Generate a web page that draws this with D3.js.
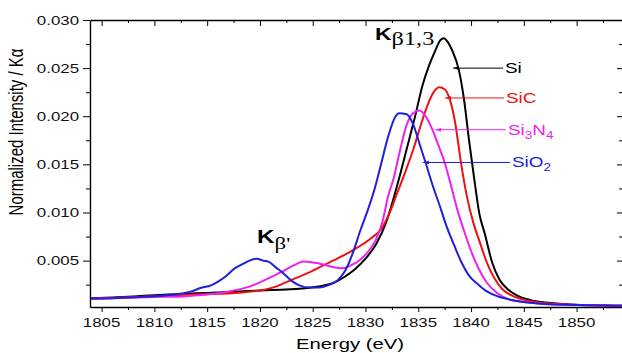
<!DOCTYPE html>
<html>
<head>
<meta charset="utf-8">
<title>Kbeta spectra</title>
<script src="https://cdnjs.cloudflare.com/ajax/libs/d3/7.8.5/d3.min.js"></script>
<style>
  body { margin: 0; background: #fff; }
  text { font-family: "Liberation Sans", Arial, sans-serif; }
</style>
</head>
<body>
<div id="chart"></div>
<script>
// series (energy in eV, intensity normalised to K alpha)
var siE = [1804, 1806, 1808, 1810, 1812, 1814, 1816, 1818, 1820, 1822, 1824, 1825.5, 1827, 1828, 1829, 1830, 1831, 1832, 1833, 1834, 1834.7, 1835.4, 1836, 1836.6, 1837.1, 1837.4, 1837.8, 1838.3, 1838.8, 1839.3, 1839.8, 1840.3, 1840.8, 1841.3, 1842, 1842.7, 1843.5, 1844.5, 1846, 1848, 1850, 1852, 1854.3];
var siV = [0.0011, 0.00118, 0.00128, 0.0014, 0.0015, 0.0016, 0.00168, 0.00178, 0.0019, 0.00198, 0.0021, 0.0023, 0.0027, 0.0033, 0.0041, 0.0052, 0.0067, 0.0091, 0.0128, 0.0170, 0.0200, 0.0232, 0.0252, 0.0268, 0.0279, 0.0281, 0.0277, 0.0266, 0.0250, 0.0220, 0.0176, 0.0135, 0.0098, 0.0078, 0.0048, 0.0030, 0.0020, 0.0013, 0.0008, 0.00055, 0.00042, 0.00035, 0.0003];

var sicE = [1804, 1806, 1808, 1810, 1812, 1814, 1816, 1818, 1820, 1821.5, 1823, 1824.5, 1826, 1827.5, 1829, 1830.5, 1831.5, 1832.3, 1833, 1833.8, 1834.6, 1835.3, 1835.9, 1836.4, 1837, 1837.5, 1838, 1838.5, 1839, 1839.6, 1840.2, 1840.8, 1841.5, 1842.2, 1843, 1844, 1845.5, 1847, 1849, 1851, 1854.3];
var sicV = [0.00105, 0.00112, 0.0012, 0.0013, 0.0014, 0.00148, 0.00155, 0.00165, 0.0019, 0.0023, 0.003, 0.0037, 0.0045, 0.0053, 0.0062, 0.0073, 0.0083, 0.0100, 0.0120, 0.0143, 0.0168, 0.0193, 0.0212, 0.0224, 0.0230, 0.0228, 0.0217, 0.0193, 0.0155, 0.0117, 0.0090, 0.0070, 0.0048, 0.0032, 0.0020, 0.0013, 0.0008, 0.0006, 0.00045, 0.00038, 0.0003];

var si3n4E = [1804, 1806, 1808, 1810, 1812, 1814, 1816, 1817.5, 1819, 1820.5, 1822, 1823.2, 1824.1, 1825, 1826, 1827, 1827.8, 1828.6, 1829.5, 1830.3, 1831, 1831.6, 1832.1, 1832.7, 1833.3, 1833.9, 1834.5, 1835.1, 1835.7, 1836.3, 1836.9, 1837.5, 1838.1, 1838.7, 1839.3, 1840, 1840.7, 1841.5, 1842.5, 1843.5, 1845, 1847, 1850, 1854.3];
var si3n4V = [0.00102, 0.0011, 0.00118, 0.00123, 0.00125, 0.0014, 0.0016, 0.0019, 0.0023, 0.003, 0.0038, 0.0045, 0.0049, 0.0048, 0.0046, 0.0043, 0.0042, 0.0045, 0.0051, 0.0060, 0.0072, 0.0090, 0.0115, 0.0137, 0.0166, 0.0191, 0.0203, 0.0206, 0.0200, 0.0187, 0.0170, 0.0152, 0.0128, 0.0103, 0.0082, 0.0060, 0.0042, 0.0027, 0.0016, 0.0010, 0.0007, 0.0005, 0.0004, 0.0003];

var sio2E = [1804, 1806, 1808, 1810, 1812, 1813.5, 1814.5, 1815.3, 1816, 1816.8, 1817.6, 1818.3, 1819, 1819.7, 1820.3, 1820.8, 1821.5, 1822.2, 1823, 1823.8, 1824.7, 1825.6, 1826.6, 1827.4, 1828.1, 1828.8, 1829.5, 1830.2, 1830.8, 1831.4, 1832.1, 1832.8, 1833.2, 1833.9, 1834.5, 1835.1, 1835.8, 1836.4, 1837, 1837.7, 1838.4, 1839.1, 1839.9, 1840.7, 1841.5, 1842.5, 1843.5, 1845, 1847, 1850, 1854.3];
var sio2V = [0.00105, 0.0011, 0.0012, 0.0013, 0.0015, 0.0018, 0.0022, 0.0024, 0.0028, 0.0034, 0.0042, 0.0046, 0.0050, 0.0052, 0.0050, 0.0049, 0.0043, 0.0037, 0.0029, 0.0024, 0.0022, 0.0022, 0.0025, 0.0030, 0.0040, 0.0058, 0.0081, 0.0102, 0.0122, 0.0147, 0.0177, 0.0199, 0.0203, 0.0202, 0.0192, 0.0172, 0.0148, 0.0127, 0.0108, 0.0085, 0.0066, 0.0048, 0.0033, 0.0025, 0.0018, 0.0013, 0.0010, 0.0007, 0.0005, 0.0004, 0.0003];

var seriesNames = ["Si", "SiC", "Si3N4", "SiO2"];
var seriesColors = ["#000000", "#ee1111", "#ee22ee", "#1f1fdd"];
var xTicks = [1805, 1810, 1815, 1820, 1825, 1830, 1835, 1840, 1845, 1850];
var yTicks = [0.005, 0.010, 0.015, 0.020, 0.025, 0.030];

var width = 622, height = 353;
var plotL = 90, plotR = 622, plotT = 20, plotB = 307;
var sx = 1.35; // the picture is stretched sideways, so is the text

var x = d3.scaleLinear().domain([1803.9, 1854.3]).range([plotL, plotR]);
var y = d3.scaleLinear().domain([0.00018, 0.030]).range([plotB, plotT]);

var svg = d3.select("#chart").append("svg")
    .attr("width", width)
    .attr("height", height);

var defs = svg.append("defs");
defs.append("clipPath").attr("id", "clip")
  .append("rect").attr("x", plotL).attr("y", plotT)
  .attr("width", plotR - plotL).attr("height", plotB - plotT);

function stext(g, tx, ty, str, size) {
  return g.append("text")
    .attr("transform", "translate(" + tx + "," + ty + ") scale(" + sx + ",1)")
    .attr("font-size", size)
    .text(str);
}

// axes
var minorX = d3.range(1807.5, 1854, 5);
var minorY = d3.range(0.0025, 0.03, 0.005);

var bottomAxis = svg.append("g")
    .attr("transform", "translate(0," + plotB + ")")
    .call(d3.axisBottom(x).tickValues(xTicks).tickSize(5).tickSizeOuter(0).tickFormat(""));
bottomAxis.select(".domain").attr("stroke-width", 1.4);
svg.append("g")
    .attr("transform", "translate(0," + plotB + ")")
    .call(d3.axisBottom(x).tickValues(minorX).tickSize(3).tickFormat(""))
    .select(".domain").remove();

var topAxis = svg.append("g")
    .attr("transform", "translate(0," + plotT + ")")
    .call(d3.axisBottom(x).tickValues(xTicks).tickSize(6).tickSizeOuter(0).tickFormat(""));
topAxis.select(".domain").attr("stroke-width", 1.4);
svg.append("g")
    .attr("transform", "translate(0," + plotT + ")")
    .call(d3.axisBottom(x).tickValues(minorX).tickSize(3).tickFormat(""))
    .select(".domain").remove();

var leftAxis = svg.append("g")
    .attr("transform", "translate(" + plotL + ",0)")
    .call(d3.axisLeft(y).tickValues(yTicks).tickSize(7).tickSizeOuter(0).tickFormat(""));
leftAxis.select(".domain").attr("stroke-width", 1.4);
svg.append("g")
    .attr("transform", "translate(" + plotL + ",0)")
    .call(d3.axisLeft(y).tickValues(minorY).tickSize(4).tickFormat(""))
    .select(".domain").remove();

svg.append("g")
    .attr("transform", "translate(" + plotR + ",0)")
    .call(d3.axisLeft(y).tickValues(yTicks).tickSize(5).tickSizeOuter(0).tickFormat(""));
svg.append("g")
    .attr("transform", "translate(" + plotR + ",0)")
    .call(d3.axisLeft(y).tickValues(minorY).tickSize(3).tickFormat(""))
    .select(".domain").remove();

// tick labels
var labels = svg.append("g").attr("fill", "#111");
xTicks.forEach(function(t) {
  stext(labels, x(t), plotB + 20, t, 12.5).attr("text-anchor", "middle");
});
yTicks.forEach(function(t) {
  stext(labels, plotL - 11, y(t) + 4.5, d3.format(".3f")(t), 12.5).attr("text-anchor", "end");
});

stext(svg, (plotL + plotR) / 2 - 6, 349, "Energy (eV)", 15).attr("text-anchor", "middle");

svg.append("text")
    .attr("transform", "translate(23,132) scale(" + sx + ",1) rotate(-90)")
    .attr("text-anchor", "middle")
    .attr("font-size", 15)
    .text("Normalized Intensity / K\u03b1");

// curves
var series = [siE, sicE, si3n4E, sio2E].map(function(es, i) {
  var vs = [siV, sicV, si3n4V, sio2V][i];
  return es.map(function(e, j) { return {e: e, v: vs[j]}; });
});

var line = d3.line()
    .x(function(d) { return x(d.e); })
    .y(function(d) { return y(d.v); })
    .curve(d3.curveMonotoneX);

svg.append("g").attr("clip-path", "url(#clip)")
  .selectAll("path")
  .data(series)
  .enter().append("path")
    .attr("d", line)
    .attr("fill", "none")
    .attr("stroke", function(d, i) { return seriesColors[i]; })
    .attr("stroke-width", 2)
    .attr("stroke-linejoin", "round");

// peak labels
var k13 = stext(svg, 375, 40, "", 17);
k13.append("tspan").attr("font-weight", "bold").text("K");
k13.append("tspan").attr("font-family", "Liberation Serif, serif").attr("font-size", 18)
    .attr("dy", 5).text("\u03b21,3");

var kp = stext(svg, 257, 243, "", 18);
kp.append("tspan").attr("font-weight", "bold").text("K");
kp.append("tspan").attr("font-family", "Liberation Serif, serif").attr("font-size", 17)
    .attr("dy", 6).text("\u03b2'");

// arrow labels: tip energy, label row
var arrowTip = [1838.3, 1837.55, 1836.6, 1835.45];
var arrowVal = [0.0250, 0.0219, 0.0186, 0.0152];
var labelX = [505, 506, 508, 512];

seriesColors.forEach(function(c, i) {
  defs.append("marker")
      .attr("id", "arr" + i)
      .attr("viewBox", "0 0 10 6")
      .attr("refX", 0).attr("refY", 3)
      .attr("markerWidth", 6).attr("markerHeight", 4)
      .attr("markerUnits", "userSpaceOnUse")
      .attr("orient", "auto")
    .append("path").attr("d", "M10,0L0,3L10,6Z").attr("fill", c);
});

seriesNames.forEach(function(n, i) {
  var yy = y(arrowVal[i]);
  svg.append("line")
      .attr("x1", x(arrowTip[i])).attr("y1", yy)
      .attr("x2", labelX[i] - 2).attr("y2", yy)
      .attr("stroke", seriesColors[i])
      .attr("stroke-width", 1)
      .attr("marker-start", "url(#arr" + i + ")");
  var t = stext(svg, labelX[i], yy + 5, "", 14).attr("fill", seriesColors[i]);
  if (n == "Si3N4") {
    t.append("tspan").text("Si");
    t.append("tspan").attr("font-size", 10).attr("dy", 4).text("3");
    t.append("tspan").attr("dy", -4).text("N");
    t.append("tspan").attr("font-size", 10).attr("dy", 4).text("4");
  } else if (n == "SiO2") {
    t.append("tspan").text("SiO");
    t.append("tspan").attr("font-size", 10).attr("dy", 4).text("2");
  } else {
    t.text(n);
  }
});
</script>
</body>
</html>
